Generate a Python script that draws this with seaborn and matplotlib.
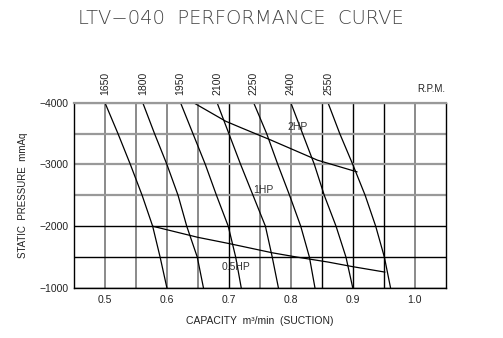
import matplotlib
matplotlib.use("Agg")
import matplotlib.pyplot as plt
import seaborn as sns
import pandas as pd

# ---- data ----
pressure = [-4000, -3500, -3000, -2500, -2000, -1500, -1000]
rpm_labels = ["1650", "1800", "1950", "2100", "2250", "2400", "2550"]
cap_1650 = [0.500, 0.521, 0.541, 0.560, 0.577, 0.589, 0.600]
cap_1800 = [0.561, 0.580, 0.600, 0.618, 0.632, 0.649, 0.659]
cap_1950 = [0.622, 0.642, 0.662, 0.680, 0.699, 0.711, 0.720]
cap_2100 = [0.681, 0.700, 0.719, 0.739, 0.759, 0.770, 0.780]
cap_2250 = [0.740, 0.761, 0.779, 0.798, 0.816, 0.830, 0.839]
cap_2400 = [0.800, 0.819, 0.838, 0.854, 0.873, 0.889, 0.900]
cap_2550 = [0.860, 0.879, 0.900, 0.920, 0.937, 0.951, 0.961]

hp2_capacity = [0.643, 0.695, 0.721, 0.768, 0.843, 0.907]
hp2_pressure = [-4000, -3700, -3590, -3395, -3070, -2880]
hp05_capacity = [0.577, 0.650, 0.700, 0.770, 0.810, 0.860, 0.900, 0.952]
hp05_pressure = [-2000, -1820, -1720, -1570, -1500, -1420, -1345, -1257]

hp_labels = ["2HP", "1HP", "0.5HP"]
hp_label_x = [0.811, 0.755, 0.711]
hp_label_y = [-3610, -2580, -1333]

x_grid = [0.50, 0.55, 0.60, 0.65, 0.70, 0.75, 0.80, 0.85, 0.90, 0.95, 1.00]
x_ticklabels = ["0.5", "", "0.6", "", "0.7", "", "0.8", "", "0.9", "", "1.0"]
y_grid = [-4000, -3500, -3000, -2500, -2000, -1500, -1000]
y_ticklabels = ["\u22124000", "", "\u22123000", "", "\u22122000", "", "\u22121000"]

curves = [cap_1650, cap_1800, cap_1950, cap_2100, cap_2250, cap_2400, cap_2550]
rows = []
for lab, caps in zip(rpm_labels, curves):
    for c, p in zip(caps, pressure):
        rows.append({"rpm": lab, "capacity": c, "pressure": p})
df = pd.DataFrame(rows)

# ---- styling ----
sns.set_theme(style="white")
plt.rcParams["font.family"] = ["Liberation Sans", "DejaVu Sans"]

fig = plt.figure(figsize=(5.03, 3.38), dpi=100)
ax = fig.add_axes([0.1471, 0.148, 0.7390, 0.548])

sns.lineplot(data=df, x="capacity", y="pressure", units="rpm", estimator=None,
             sort=False, color="black", lw=0.9, ax=ax)
sns.lineplot(x=hp2_capacity, y=hp2_pressure, sort=False, color="black", lw=0.9, ax=ax)
sns.lineplot(x=hp05_capacity, y=hp05_pressure, sort=False, color="black", lw=0.9, ax=ax)

ax.set_xlim(0.45, 1.05)
ax.set_ylim(-1000, -4000)
ax.set_xticks(x_grid)
ax.set_xticklabels(x_ticklabels, fontsize=7.5)
ax.set_yticks(y_grid)
ax.set_yticklabels(y_ticklabels, fontsize=7.5)
ax.tick_params(length=0, colors="#222222")
ax.tick_params(axis="x", pad=5)
ax.tick_params(axis="y", pad=4)

ax.grid(True)
x_dark = [False, False, False, False, True, False, False, True, True, True, False]
for ln, dark in zip(ax.xaxis.get_gridlines(), x_dark):
    ln.set_color("black" if dark else "#8a8a8a")
    ln.set_linewidth(1.0 if dark else 1.4)
y_dark = [False, False, False, False, True, True, True]
for ln, dark in zip(ax.yaxis.get_gridlines(), y_dark):
    ln.set_color("black" if dark else "#999999")
    ln.set_linewidth(1.0 if dark else 1.6)

for side in ["left", "right", "bottom"]:
    ax.spines[side].set_color("black")
    ax.spines[side].set_linewidth(1.0)
ax.spines["top"].set_color("#999999")
ax.spines["top"].set_linewidth(1.6)

for lab, caps in zip(rpm_labels, curves):
    ax.annotate(lab, xy=(caps[0], -4000), xytext=(0, 5.5), textcoords="offset points",
                rotation=90, ha="center", va="bottom", fontsize=7.5, color="#222222")
ax.text(1.0, 1.075, "R.P.M.", transform=ax.transAxes, ha="right", va="center",
        fontsize=7, color="#222222")

for t, x, y in zip(hp_labels, hp_label_x, hp_label_y):
    ax.text(x, y, t, ha="center", va="center", fontsize=7.5, color="#333333")

ax.set_xlabel("CAPACITY  m\u00b3/min  (SUCTION)", fontsize=7.5, labelpad=8, color="#222222")
ax.set_ylabel("STATIC  PRESSURE  mmAq", fontsize=7, labelpad=8, color="#222222")

fig.text(0.478, 0.944, "LTV\u2212040  PERFORMANCE  CURVE", ha="center", va="center",
         fontsize=14, family="DejaVu Sans", fontweight="light", color="#444444")

fig.savefig("out.png", dpi=100)
